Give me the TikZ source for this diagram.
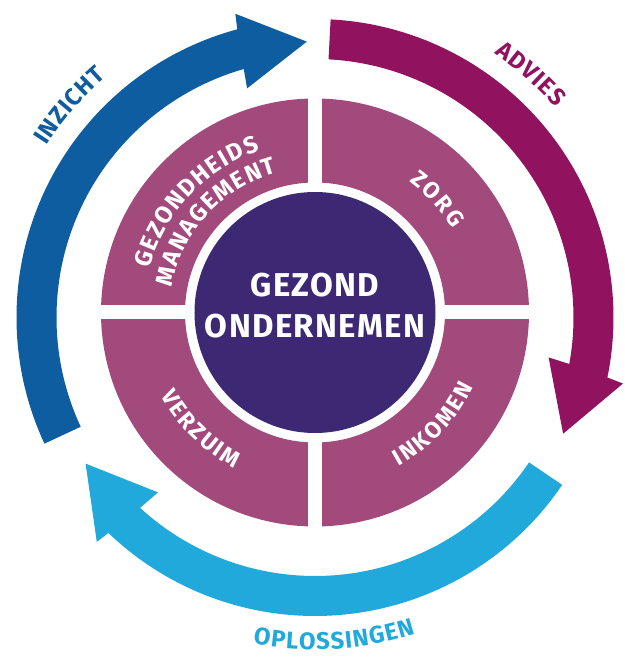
\documentclass[tikz,border=0pt]{standalone}
\usepackage{fontspec}
\setmainfont{Fira Sans}
\usetikzlibrary{decorations.text}

\definecolor{quadcol}{HTML}{A34A7C}
\definecolor{corecol}{HTML}{3D2873}
\definecolor{inzichtcol}{HTML}{0E5DA0}
\definecolor{adviescol}{HTML}{911360}
\definecolor{oploscol}{HTML}{21A9DC}

% tracking between the letters of arc texts
\newcommand{\qk}{\kern2.2pt}
\newcommand{\mk}{\kern1.4pt}
\newcommand{\rk}{\kern1pt}

\tikzset{
  % text set along an arc: colour, font size, text
  arctext/.style n args={3}{decorate, decoration={text along path,
      text align=center, text color=#1,
      text={|\fontsize{#2}{#2}\selectfont\bfseries|#3}}},
  quadtext/.style={arctext={white}{23}{#1}},
  pairtext/.style={arctext={white}{24}{#1}},
  corefont/.style={font=\fontsize{33}{41}\selectfont\bfseries\addfontfeatures{LetterSpace=4},
    text=white, inner sep=0pt},
}

\begin{document}
\begin{tikzpicture}[x=1pt, y=1pt]
  \useasboundingbox (-315,-340.5) rectangle (309,317.5);
  \fill[white] (-315,-340.5) rectangle (309,317.5);

  % ---- outer cycle of three arrows (centre of the ring at the origin) ----
  % Inzicht: from lower left, up and over to the top
  \fill[inzichtcol] (205:258.5) arc[start angle=205, end angle=106.0, radius=258.5]
    -- (106.5:239) -- (91.7:276) -- (104.7:314) -- (105.1:298.5)
    arc[start angle=105.1, end angle=205, radius=298.5] -- cycle;
  % Advies: from the top down the right side
  \fill[adviescol] (87:298.5) arc[start angle=87, end angle=-11.6, radius=298.5]
    -- (-12.1:315) -- (-25.1:274) -- (-9.7:237) -- (-10.36:258.5)
    arc[start angle=-10.36, end angle=87, radius=258.5] -- cycle;
  % Oplossingen: from lower right round the bottom
  \fill[oploscol] (-34.1:298.5) arc[start angle=-34.1, end angle=-133.8, radius=298.5]
    -- (-134.2:313) -- (-147.5:272) -- (-131.9:235) -- (-132.6:258.5)
    arc[start angle=-132.6, end angle=-34.1, radius=258.5] -- cycle;

  % ring labels
  \path[arctext={inzichtcol}{24}{{I\rk}{N\rk}{Z\rk}{I\rk}{C\rk}{H\rk}T}]
    (169.2:319) arc[start angle=169.2, end angle=109.2, radius=319];
  \path[arctext={adviescol}{24}{{A\rk}{D\rk}{V\rk}{I\rk}{E\rk}S}]
    (78.5:319) arc[start angle=78.5, end angle=18.5, radius=319];
  \path[arctext={oploscol}{24}{{O\rk}{P\rk}{L\rk}{O\rk}{S\rk}{S\rk}{I\rk}{N\rk}{G\rk}{E\rk}N}]
    (-116.6:332) arc[start angle=-116.6, end angle=-56.6, radius=332];

  % ---- four quadrants and the core ----
  \begin{scope}[shift={(0,5)}]
    \fill[quadcol, even odd rule] (0,0) circle[radius=214] (0,0) circle[radius=130];
    \fill[white] (-7,-216) rectangle (7,216);
    \fill[white] (-216,-7) rectangle (216,7);
    \fill[corecol] (0,0) circle[radius=120.5];

    \path[quadtext={{Z\qk}{O\qk}{R\qk}G}]
      (72.8:161) arc[start angle=72.8, end angle=12.8, radius=161];
    \path[quadtext={{I\qk}{N\qk}{K\qk}{O\qk}{M\qk}{E\qk}N}]
      (-73.3:175) arc[start angle=-73.3, end angle=-13.3, radius=175];
    \path[quadtext={{V\qk}{E\qk}{R\qk}{Z\qk}{U\qk}{I\qk}M}]
      (195.5:175) arc[start angle=195.5, end angle=255.5, radius=175];
    \path[pairtext={{G\mk}{E\mk}{Z\mk}{O\mk}{N\mk}{D\mk}{H\mk}{E\mk}{I\mk}{D\mk}S}]
      (177:171) arc[start angle=177, end angle=97, radius=171];
    \path[pairtext={{M\mk}{A\mk}{N\mk}{A\mk}{G\mk}{E\mk}{M\mk}{E\mk}{N\mk}T}]
      (177.5:145) arc[start angle=177.5, end angle=97.5, radius=145];
  \end{scope}

  \node[corefont, anchor=base] (gezond) at (0,20.5) {GEZOND};
  \node[corefont, anchor=base] (ondernemen) at (0,-20.5) {ONDERNEMEN};
\end{tikzpicture}
\end{document}
